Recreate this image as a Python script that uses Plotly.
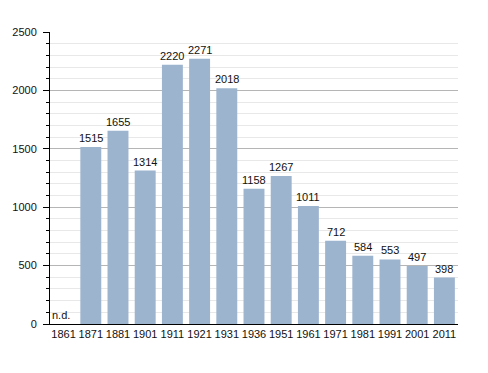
import plotly.graph_objects as go

years = ["1861", "1871", "1881", "1901", "1911", "1921", "1931", "1936",
         "1951", "1961", "1971", "1981", "1991", "2001", "2011"]
population = [None, 1515, 1655, 1314, 2220, 2271, 2018, 1158,
              1267, 1011, 712, 584, 553, 497, 398]
y_ticks = [0, 500, 1000, 1500, 2000, 2500]

FONT = "Liberation Sans, Arial, sans-serif"

fig = go.Figure()
fig.add_trace(go.Bar(
    x=years, y=population,
    marker=dict(color="#9db4cf", line=dict(width=0)),
    width=0.77,
    cliponaxis=False,
    hoverinfo="skip",
))
for i, v in enumerate(population):
    if v is None:
        fig.add_annotation(x=i, y=0, text="n.d.", showarrow=False,
                           xanchor="center", yanchor="bottom", xshift=-3, yshift=1,
                           font=dict(family=FONT, size=11, color="#111"))
    else:
        fig.add_annotation(x=i, y=v, text=str(v), showarrow=False,
                           xanchor="center", yanchor="bottom", yshift=1,
                           font=dict(family=FONT, size=11, color="#111"))

fig.update_layout(
    width=488, height=373,
    margin=dict(l=50, r=30, t=32, b=49),
    paper_bgcolor="white", plot_bgcolor="white",
    showlegend=False,
    font=dict(family=FONT, size=11, color="#111"),
)
fig.update_xaxes(
    type="category", range=[-0.5, len(years) - 0.5], automargin=False,
    showline=True, linecolor="black", linewidth=1,
    showgrid=False, ticks="", tickfont=dict(size=11),
)
fig.update_yaxes(
    range=[0, 2500], tickvals=y_ticks, automargin=False,
    showline=True, linecolor="black", linewidth=1,
    ticks="outside", ticklen=6, tickcolor="black",
    ticklabelstandoff=4,
    showgrid=True, gridcolor="#b5b5b5", gridwidth=1,
    minor=dict(dtick=100, showgrid=True, gridcolor="#e8e8e8",
               ticks="outside", ticklen=3, tickcolor="black"),
    zeroline=False, tickfont=dict(size=11),
)
fig.write_html("out.html", config={"displayModeBar": False},
               post_script="document.body.style.margin='0';")
